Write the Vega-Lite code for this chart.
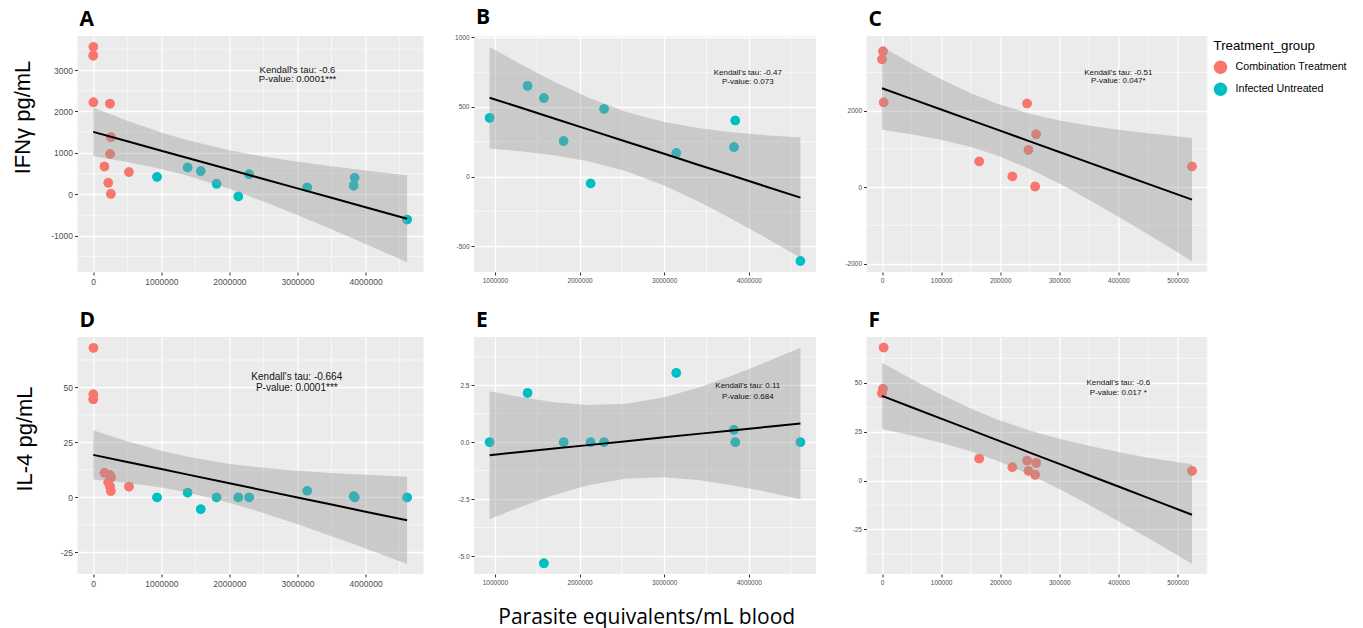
{
  "$schema": "https://vega.github.io/schema/vega-lite/v6.json",
  "background": "white",
  "padding": {"left": 10.5, "top": 7, "right": 5, "bottom": 2},
  "config": {
    "font": "Liberation Sans",
    "view": {"fill": "#EBEBEB", "stroke": null},
    "axis": {
      "domain": false,
      "labelFont": "Liberation Sans",
      "labelColor": "#4D4D4D",
      "tickColor": "#333333",
      "tickSize": 3,
      "tickWidth": 1,
      "gridColor": "#FFFFFF",
      "gridWidth": 1.3,
      "labelPadding": 2,
      "labelOverlap": false,
      "labelFlush": false,
      "titleFontWeight": "normal",
      "titleColor": "#000000"
    },
    "title": {"anchor": "start", "frame": "group", "fontSize": 21, "font": "Open Sans", "fontWeight": "bold", "color": "#000000", "baseline": "alphabetic", "offset": 6, "dx": 2}
  },
  "datasets": {
    "pts": [
      {"id": "c1", "group": "Combination Treatment", "parasites": 1700, "ifng": 3557, "il4": 46.9},
      {"id": "c2", "group": "Combination Treatment", "parasites": 0, "ifng": 3345, "il4": 44.6},
      {"id": "c3", "group": "Combination Treatment", "parasites": 2800, "ifng": 2221, "il4": 68.0},
      {"id": "c4", "group": "Combination Treatment", "parasites": 245500, "ifng": 2188, "il4": 10.2},
      {"id": "c5", "group": "Combination Treatment", "parasites": 260800, "ifng": 1383, "il4": 9.0},
      {"id": "c6", "group": "Combination Treatment", "parasites": 247700, "ifng": 975, "il4": 4.9},
      {"id": "c7", "group": "Combination Treatment", "parasites": 164400, "ifng": 672, "il4": 11.2},
      {"id": "c8", "group": "Combination Treatment", "parasites": 220500, "ifng": 280, "il4": 6.8},
      {"id": "c9", "group": "Combination Treatment", "parasites": 259000, "ifng": 16, "il4": 2.9},
      {"id": "c10", "group": "Combination Treatment", "parasites": 524400, "ifng": 540, "il4": 4.9},
      {"id": "b1", "group": "Infected Untreated", "parasites": 937000, "ifng": 421, "il4": 0},
      {"id": "b2", "group": "Infected Untreated", "parasites": 1386000, "ifng": 652, "il4": 2.16},
      {"id": "b3", "group": "Infected Untreated", "parasites": 1579000, "ifng": 564, "il4": -5.32},
      {"id": "b4", "group": "Infected Untreated", "parasites": 1812000, "ifng": 255, "il4": 0},
      {"id": "b5", "group": "Infected Untreated", "parasites": 2131000, "ifng": -50, "il4": 0},
      {"id": "b6", "group": "Infected Untreated", "parasites": 2290000, "ifng": 486, "il4": 0},
      {"id": "b7", "group": "Infected Untreated", "parasites": 3143000, "ifng": 169, "il4": 3.04},
      {"id": "b8", "group": "Infected Untreated", "parasites": 3840000, "ifng": 402, "il4": 0},
      {"id": "b9", "group": "Infected Untreated", "parasites": 3825000, "ifng": 212, "il4": 0.54},
      {"id": "b10", "group": "Infected Untreated", "parasites": 4610000, "ifng": -607, "il4": 0}
    ],
    "minor": [
      {"panel": "A", "dir": "x", "value": 500000}, {"panel": "A", "dir": "x", "value": 1500000}, {"panel": "A", "dir": "x", "value": 2500000}, {"panel": "A", "dir": "x", "value": 3500000}, {"panel": "A", "dir": "x", "value": 4500000},
      {"panel": "A", "dir": "y", "value": -1500}, {"panel": "A", "dir": "y", "value": -500}, {"panel": "A", "dir": "y", "value": 500}, {"panel": "A", "dir": "y", "value": 1500}, {"panel": "A", "dir": "y", "value": 2500}, {"panel": "A", "dir": "y", "value": 3500},
      {"panel": "B", "dir": "x", "value": 1500000}, {"panel": "B", "dir": "x", "value": 2500000}, {"panel": "B", "dir": "x", "value": 3500000}, {"panel": "B", "dir": "x", "value": 4500000},
      {"panel": "B", "dir": "y", "value": -250}, {"panel": "B", "dir": "y", "value": 250}, {"panel": "B", "dir": "y", "value": 750},
      {"panel": "C", "dir": "x", "value": 50000}, {"panel": "C", "dir": "x", "value": 150000}, {"panel": "C", "dir": "x", "value": 250000}, {"panel": "C", "dir": "x", "value": 350000}, {"panel": "C", "dir": "x", "value": 450000}, {"panel": "C", "dir": "x", "value": 550000},
      {"panel": "C", "dir": "y", "value": -1000}, {"panel": "C", "dir": "y", "value": 1000}, {"panel": "C", "dir": "y", "value": 3000},
      {"panel": "D", "dir": "x", "value": 500000}, {"panel": "D", "dir": "x", "value": 1500000}, {"panel": "D", "dir": "x", "value": 2500000}, {"panel": "D", "dir": "x", "value": 3500000}, {"panel": "D", "dir": "x", "value": 4500000},
      {"panel": "D", "dir": "y", "value": -12.5}, {"panel": "D", "dir": "y", "value": 12.5}, {"panel": "D", "dir": "y", "value": 37.5}, {"panel": "D", "dir": "y", "value": 62.5},
      {"panel": "E", "dir": "x", "value": 1500000}, {"panel": "E", "dir": "x", "value": 2500000}, {"panel": "E", "dir": "x", "value": 3500000}, {"panel": "E", "dir": "x", "value": 4500000},
      {"panel": "E", "dir": "y", "value": -3.75}, {"panel": "E", "dir": "y", "value": -1.25}, {"panel": "E", "dir": "y", "value": 1.25}, {"panel": "E", "dir": "y", "value": 3.75},
      {"panel": "F", "dir": "x", "value": 50000}, {"panel": "F", "dir": "x", "value": 150000}, {"panel": "F", "dir": "x", "value": 250000}, {"panel": "F", "dir": "x", "value": 350000}, {"panel": "F", "dir": "x", "value": 450000}, {"panel": "F", "dir": "x", "value": 550000},
      {"panel": "F", "dir": "y", "value": -37.5}, {"panel": "F", "dir": "y", "value": -12.5}, {"panel": "F", "dir": "y", "value": 12.5}, {"panel": "F", "dir": "y", "value": 37.5}, {"panel": "F", "dir": "y", "value": 62.5}
    ],
    "fits": [
      {"panel": "A", "parasites": 0, "lower": 918.9, "fit": 1507.8, "upper": 2096.7},
      {"panel": "A", "parasites": 500000, "lower": 782.1, "fit": 1280.8, "upper": 1779.5},
      {"panel": "A", "parasites": 1000000, "lower": 613.0, "fit": 1053.7, "upper": 1494.4},
      {"panel": "A", "parasites": 1373700, "lower": 457.4, "fit": 884.0, "upper": 1310.6},
      {"panel": "A", "parasites": 2000000, "lower": 134.5, "fit": 599.6, "upper": 1064.7},
      {"panel": "A", "parasites": 2500000, "lower": -168.5, "fit": 372.6, "upper": 913.7},
      {"panel": "A", "parasites": 3000000, "lower": -497.2, "fit": 145.5, "upper": 788.2},
      {"panel": "A", "parasites": 3500000, "lower": -841.0, "fit": -81.5, "upper": 678.0},
      {"panel": "A", "parasites": 4000000, "lower": -1194.3, "fit": -308.6, "upper": 577.1},
      {"panel": "A", "parasites": 4610000, "lower": -1634, "fit": -585.6, "upper": 462},
      {"panel": "B", "parasites": 937000, "lower": 201.9, "fit": 566.7, "upper": 931.5},
      {"panel": "B", "parasites": 1300000, "lower": 182.5, "fit": 495.7, "upper": 808.9},
      {"panel": "B", "parasites": 1700000, "lower": 153.2, "fit": 417.5, "upper": 681.8},
      {"panel": "B", "parasites": 2100000, "lower": 110.6, "fit": 339.3, "upper": 568.0},
      {"panel": "B", "parasites": 2554800, "lower": 37.4, "fit": 250.4, "upper": 463.4},
      {"panel": "B", "parasites": 3000000, "lower": -64.7, "fit": 163.4, "upper": 391.5},
      {"panel": "B", "parasites": 3400000, "lower": -178.1, "fit": 85.2, "upper": 348.5},
      {"panel": "B", "parasites": 3800000, "lower": -305.0, "fit": 7.0, "upper": 319.0},
      {"panel": "B", "parasites": 4200000, "lower": -440.0, "fit": -71.2, "upper": 297.6},
      {"panel": "B", "parasites": 4610000, "lower": -583.5, "fit": -151.4, "upper": 280.8},
      {"panel": "C", "parasites": 0, "lower": 1502.3, "fit": 2589.3, "upper": 3676.3},
      {"panel": "C", "parasites": 50000, "lower": 1386.4, "fit": 2311.2, "upper": 3236.0},
      {"panel": "C", "parasites": 100000, "lower": 1241.7, "fit": 2033.2, "upper": 2824.7},
      {"panel": "C", "parasites": 150000, "lower": 1051.7, "fit": 1755.1, "upper": 2458.5},
      {"panel": "C", "parasites": 192680, "lower": 840.0, "fit": 1517.7, "upper": 2195.4},
      {"panel": "C", "parasites": 250000, "lower": 475.6, "fit": 1199.0, "upper": 1922.4},
      {"panel": "C", "parasites": 300000, "lower": 94.2, "fit": 920.9, "upper": 1747.6},
      {"panel": "C", "parasites": 350000, "lower": -327.2, "fit": 642.8, "upper": 1612.8},
      {"panel": "C", "parasites": 400000, "lower": -773.5, "fit": 364.7, "upper": 1502.9},
      {"panel": "C", "parasites": 450000, "lower": -1235.2, "fit": 86.7, "upper": 1408.6},
      {"panel": "C", "parasites": 524400, "lower": -1939.6, "fit": -327.1, "upper": 1285.4},
      {"panel": "D", "parasites": 0, "lower": 8.20, "fit": 19.356, "upper": 30.52},
      {"panel": "D", "parasites": 500000, "lower": 6.68, "fit": 16.129, "upper": 25.58},
      {"panel": "D", "parasites": 1000000, "lower": 4.55, "fit": 12.903, "upper": 21.26},
      {"panel": "D", "parasites": 1373700, "lower": 2.41, "fit": 10.491, "upper": 18.58},
      {"panel": "D", "parasites": 2000000, "lower": -2.37, "fit": 6.449, "upper": 15.26},
      {"panel": "D", "parasites": 2500000, "lower": -7.03, "fit": 3.222, "upper": 13.48},
      {"panel": "D", "parasites": 3000000, "lower": -12.19, "fit": -0.005, "upper": 12.18},
      {"panel": "D", "parasites": 3500000, "lower": -17.63, "fit": -3.231, "upper": 11.16},
      {"panel": "D", "parasites": 4000000, "lower": -23.24, "fit": -6.458, "upper": 10.33},
      {"panel": "D", "parasites": 4610000, "lower": -30.25, "fit": -10.39, "upper": 9.47},
      {"panel": "E", "parasites": 937000, "lower": -3.382, "fit": -0.572, "upper": 2.239},
      {"panel": "E", "parasites": 1300000, "lower": -2.847, "fit": -0.434, "upper": 1.979},
      {"panel": "E", "parasites": 1700000, "lower": -2.319, "fit": -0.282, "upper": 1.754},
      {"panel": "E", "parasites": 2100000, "lower": -1.893, "fit": -0.131, "upper": 1.632},
      {"panel": "E", "parasites": 2554800, "lower": -1.599, "fit": 0.042, "upper": 1.683},
      {"panel": "E", "parasites": 3000000, "lower": -1.546, "fit": 0.211, "upper": 1.968},
      {"panel": "E", "parasites": 3400000, "lower": -1.666, "fit": 0.363, "upper": 2.391},
      {"panel": "E", "parasites": 3800000, "lower": -1.889, "fit": 0.514, "upper": 2.918},
      {"panel": "E", "parasites": 4200000, "lower": -2.176, "fit": 0.666, "upper": 3.508},
      {"panel": "E", "parasites": 4610000, "lower": -2.51, "fit": 0.822, "upper": 4.15},
      {"panel": "F", "parasites": 0, "lower": 26.35, "fit": 43.259, "upper": 60.17},
      {"panel": "F", "parasites": 50000, "lower": 23.08, "fit": 37.467, "upper": 51.86},
      {"panel": "F", "parasites": 100000, "lower": 19.36, "fit": 31.675, "upper": 43.99},
      {"panel": "F", "parasites": 150000, "lower": 14.94, "fit": 25.884, "upper": 36.83},
      {"panel": "F", "parasites": 192680, "lower": 10.40, "fit": 20.94, "upper": 31.49},
      {"panel": "F", "parasites": 250000, "lower": 3.05, "fit": 14.300, "upper": 25.56},
      {"panel": "F", "parasites": 300000, "lower": -4.35, "fit": 8.508, "upper": 21.37},
      {"panel": "F", "parasites": 350000, "lower": -12.38, "fit": 2.716, "upper": 17.81},
      {"panel": "F", "parasites": 400000, "lower": -20.79, "fit": -3.075, "upper": 14.63},
      {"panel": "F", "parasites": 450000, "lower": -29.44, "fit": -8.867, "upper": 11.70},
      {"panel": "F", "parasites": 524400, "lower": -42.57, "fit": -17.485, "upper": 8.3}
    ],
    "notes": [
      {"panel": "A", "parasites": 3000000, "value": 2993, "label": "Kendall's tau: -0.6"},
      {"panel": "A", "parasites": 3000000, "value": 2782, "label": "P-value: 0.0001***"},
      {"panel": "B", "parasites": 3988000, "value": 743, "label": "Kendall's tau: -0.47"},
      {"panel": "B", "parasites": 3988000, "value": 681, "label": "P-value: 0.073"},
      {"panel": "C", "parasites": 399700, "value": 2985, "label": "Kendall's tau: -0.51"},
      {"panel": "C", "parasites": 399700, "value": 2768, "label": "P-value: 0.047*"},
      {"panel": "D", "parasites": 2990000, "value": 54.7, "label": "Kendall's tau: -0.664"},
      {"panel": "D", "parasites": 2990000, "value": 49.8, "label": "P-value: 0.0001***"},
      {"panel": "E", "parasites": 3988000, "value": 2.47, "label": "Kendall's tau: 0.11"},
      {"panel": "E", "parasites": 3988000, "value": 1.97, "label": "P-value: 0.684"},
      {"panel": "F", "parasites": 399800, "value": 49.8, "label": "Kendall's tau: -0.6"},
      {"panel": "F", "parasites": 399800, "value": 44.7, "label": "P-value: 0.017 *"}
    ]
  },
  "columns": 3,
  "spacing": {"row": 65, "column": 50.5},
  "bounds": "flush",
  "align": "each",
  "resolve": {"scale": {"x": "independent", "y": "independent", "color": "shared"}},
  "concat": [
    {
      "width": 346, "height": 236,
      "title": {"text": "A"},
      "layer": [
        {
          "data": {"name": "pts"},
          "mark": {"type": "point", "filled": true, "size": 90, "opacity": 1, "strokeWidth": 0},
          "encoding": {
            "x": {"field": "parasites", "type": "quantitative",
              "scale": {"domain": [-231000, 4851000], "nice": false, "zero": false},
              "axis": {"title": null, "values": [0, 1000000, 2000000, 3000000, 4000000], "labelExpr": "'' + datum.value", "labelFontSize": 8.5}},
            "y": {"field": "ifng", "type": "quantitative",
              "scale": {"domain": [-1870, 3820], "nice": false, "zero": false},
              "axis": {"title": "IFNγ pg/mL", "titleFont": "Liberation Sans", "titleFontSize": 22, "titleX": -48.5, "titleY": 81, "titleBaseline": "alphabetic",
                "values": [-1000, 0, 1000, 2000, 3000], "labelExpr": "'' + datum.value", "labelFontSize": 8.5}},
            "color": {"field": "group", "type": "nominal",
              "scale": {"domain": ["Combination Treatment", "Infected Untreated"], "range": ["#F8766D", "#00BFC4"]},
              "legend": {"title": "Treatment_group", "orient": "none", "legendX": 1136, "legendY": 3, "titleFont": "Liberation Sans", "titleFontSize": 13.3, "titleFontWeight": "normal", "titleColor": "#000000", "titlePadding": 8, "labelFont": "Liberation Sans", "labelFontSize": 10.7, "labelColor": "#000000", "labelOffset": 8, "symbolType": "circle", "symbolSize": 180, "symbolStrokeWidth": 0, "symbolOpacity": 1, "rowPadding": 8, "padding": 0}}
          }
        },
        {
          "data": {"name": "minor"}, "transform": [{"filter": "datum.panel === 'A' && datum.dir === 'x'"}],
          "mark": {"type": "rule", "color": "#FFFFFF", "strokeWidth": 0.6},
          "encoding": {"x": {"field": "value", "type": "quantitative"}}
        },
        {
          "data": {"name": "minor"}, "transform": [{"filter": "datum.panel === 'A' && datum.dir === 'y'"}],
          "mark": {"type": "rule", "color": "#FFFFFF", "strokeWidth": 0.6},
          "encoding": {"y": {"field": "value", "type": "quantitative"}}
        },
        {
          "data": {"name": "pts"},
          "mark": {"type": "point", "filled": true, "size": 90, "opacity": 1, "strokeWidth": 0},
          "encoding": {"x": {"field": "parasites", "type": "quantitative"}, "y": {"field": "ifng", "type": "quantitative"}, "color": {"field": "group", "type": "nominal"}}
        },
        {
          "data": {"name": "fits"}, "transform": [{"filter": "datum.panel === 'A'"}],
          "mark": {"type": "area", "color": "#999999", "opacity": 0.4},
          "encoding": {"x": {"field": "parasites", "type": "quantitative"}, "y": {"field": "lower", "type": "quantitative"}, "y2": {"field": "upper"}}
        },
        {
          "data": {"name": "fits"}, "transform": [{"filter": "datum.panel === 'A'"}],
          "mark": {"type": "line", "color": "#000000", "strokeWidth": 2},
          "encoding": {"x": {"field": "parasites", "type": "quantitative"}, "y": {"field": "fit", "type": "quantitative"}}
        },
        {
          "data": {"name": "notes"}, "transform": [{"filter": "datum.panel === 'A'"}],
          "mark": {"type": "text", "fontSize": 9.5, "font": "Liberation Sans", "color": "#111111", "align": "center", "baseline": "middle"},
          "encoding": {"x": {"field": "parasites", "type": "quantitative"}, "y": {"field": "value", "type": "quantitative"}, "text": {"field": "label"}}
        }
      ]
    },
    {
      "width": 342, "height": 236,
      "title": {"text": "B"},
      "layer": [
        {
          "data": {"name": "pts"}, "transform": [{"filter": "datum.group === 'Infected Untreated'"}],
          "mark": {"type": "point", "filled": true, "size": 90, "opacity": 1, "strokeWidth": 0},
          "encoding": {
            "x": {"field": "parasites", "type": "quantitative",
              "scale": {"domain": [753000, 4794000], "nice": false, "zero": false},
              "axis": {"title": null, "values": [1000000, 2000000, 3000000, 4000000], "labelExpr": "'' + datum.value", "labelFontSize": 6.5}},
            "y": {"field": "ifng", "type": "quantitative",
              "scale": {"domain": [-686, 1010], "nice": false, "zero": false},
              "axis": {"title": null, "values": [-500, 0, 500, 1000], "labelExpr": "'' + datum.value", "labelFontSize": 6.5}},
            "color": {"field": "group", "type": "nominal",
              "scale": {"domain": ["Combination Treatment", "Infected Untreated"], "range": ["#F8766D", "#00BFC4"]},
              "legend": {"title": "Treatment_group", "orient": "none", "legendX": 1136, "legendY": 3, "titleFont": "Liberation Sans", "titleFontSize": 13.3, "titleFontWeight": "normal", "titleColor": "#000000", "titlePadding": 8, "labelFont": "Liberation Sans", "labelFontSize": 10.7, "labelColor": "#000000", "labelOffset": 8, "symbolType": "circle", "symbolSize": 180, "symbolStrokeWidth": 0, "symbolOpacity": 1, "rowPadding": 8, "padding": 0}}
          }
        },
        {
          "data": {"name": "minor"}, "transform": [{"filter": "datum.panel === 'B' && datum.dir === 'x'"}],
          "mark": {"type": "rule", "color": "#FFFFFF", "strokeWidth": 0.6},
          "encoding": {"x": {"field": "value", "type": "quantitative"}}
        },
        {
          "data": {"name": "minor"}, "transform": [{"filter": "datum.panel === 'B' && datum.dir === 'y'"}],
          "mark": {"type": "rule", "color": "#FFFFFF", "strokeWidth": 0.6},
          "encoding": {"y": {"field": "value", "type": "quantitative"}}
        },
        {
          "data": {"name": "pts"}, "transform": [{"filter": "datum.group === 'Infected Untreated'"}],
          "mark": {"type": "point", "filled": true, "size": 90, "opacity": 1, "strokeWidth": 0},
          "encoding": {"x": {"field": "parasites", "type": "quantitative"}, "y": {"field": "ifng", "type": "quantitative"}, "color": {"field": "group", "type": "nominal"}}
        },
        {
          "data": {"name": "fits"}, "transform": [{"filter": "datum.panel === 'B'"}],
          "mark": {"type": "area", "color": "#999999", "opacity": 0.4},
          "encoding": {"x": {"field": "parasites", "type": "quantitative"}, "y": {"field": "lower", "type": "quantitative"}, "y2": {"field": "upper"}}
        },
        {
          "data": {"name": "fits"}, "transform": [{"filter": "datum.panel === 'B'"}],
          "mark": {"type": "line", "color": "#000000", "strokeWidth": 2},
          "encoding": {"x": {"field": "parasites", "type": "quantitative"}, "y": {"field": "fit", "type": "quantitative"}}
        },
        {
          "data": {"name": "notes"}, "transform": [{"filter": "datum.panel === 'B'"}],
          "mark": {"type": "text", "fontSize": 8, "font": "Liberation Sans", "color": "#111111", "align": "center", "baseline": "middle"},
          "encoding": {"x": {"field": "parasites", "type": "quantitative"}, "y": {"field": "value", "type": "quantitative"}, "text": {"field": "label"}}
        }
      ]
    },
    {
      "width": 341, "height": 236,
      "title": {"text": "C"},
      "layer": [
        {
          "data": {"name": "pts"}, "transform": [{"filter": "datum.group === 'Combination Treatment'"}],
          "mark": {"type": "point", "filled": true, "size": 90, "opacity": 1, "strokeWidth": 0},
          "encoding": {
            "x": {"field": "parasites", "type": "quantitative",
              "scale": {"domain": [-26220, 550620], "nice": false, "zero": false},
              "axis": {"title": null, "values": [0, 100000, 200000, 300000, 400000, 500000], "labelExpr": "'' + datum.value", "labelFontSize": 6.5}},
            "y": {"field": "ifng", "type": "quantitative",
              "scale": {"domain": [-2222, 3957], "nice": false, "zero": false},
              "axis": {"title": null, "values": [-2000, 0, 2000], "labelExpr": "'' + datum.value", "labelFontSize": 6.5}},
            "color": {"field": "group", "type": "nominal",
              "scale": {"domain": ["Combination Treatment", "Infected Untreated"], "range": ["#F8766D", "#00BFC4"]},
              "legend": {"title": "Treatment_group", "orient": "none", "legendX": 1136, "legendY": 3, "titleFont": "Liberation Sans", "titleFontSize": 13.3, "titleFontWeight": "normal", "titleColor": "#000000", "titlePadding": 8, "labelFont": "Liberation Sans", "labelFontSize": 10.7, "labelColor": "#000000", "labelOffset": 8, "symbolType": "circle", "symbolSize": 180, "symbolStrokeWidth": 0, "symbolOpacity": 1, "rowPadding": 8, "padding": 0}}
          }
        },
        {
          "data": {"name": "minor"}, "transform": [{"filter": "datum.panel === 'C' && datum.dir === 'x'"}],
          "mark": {"type": "rule", "color": "#FFFFFF", "strokeWidth": 0.6},
          "encoding": {"x": {"field": "value", "type": "quantitative"}}
        },
        {
          "data": {"name": "minor"}, "transform": [{"filter": "datum.panel === 'C' && datum.dir === 'y'"}],
          "mark": {"type": "rule", "color": "#FFFFFF", "strokeWidth": 0.6},
          "encoding": {"y": {"field": "value", "type": "quantitative"}}
        },
        {
          "data": {"name": "pts"}, "transform": [{"filter": "datum.group === 'Combination Treatment'"}],
          "mark": {"type": "point", "filled": true, "size": 90, "opacity": 1, "strokeWidth": 0},
          "encoding": {"x": {"field": "parasites", "type": "quantitative"}, "y": {"field": "ifng", "type": "quantitative"}, "color": {"field": "group", "type": "nominal"}}
        },
        {
          "data": {"name": "fits"}, "transform": [{"filter": "datum.panel === 'C'"}],
          "mark": {"type": "area", "color": "#999999", "opacity": 0.4},
          "encoding": {"x": {"field": "parasites", "type": "quantitative"}, "y": {"field": "lower", "type": "quantitative"}, "y2": {"field": "upper"}}
        },
        {
          "data": {"name": "fits"}, "transform": [{"filter": "datum.panel === 'C'"}],
          "mark": {"type": "line", "color": "#000000", "strokeWidth": 2},
          "encoding": {"x": {"field": "parasites", "type": "quantitative"}, "y": {"field": "fit", "type": "quantitative"}}
        },
        {
          "data": {"name": "notes"}, "transform": [{"filter": "datum.panel === 'C'"}],
          "mark": {"type": "text", "fontSize": 8, "font": "Liberation Sans", "color": "#111111", "align": "center", "baseline": "middle"},
          "encoding": {"x": {"field": "parasites", "type": "quantitative"}, "y": {"field": "value", "type": "quantitative"}, "text": {"field": "label"}}
        }
      ]
    },
    {
      "width": 346, "height": 237,
      "title": {"text": "D"},
      "layer": [
        {
          "data": {"name": "pts"},
          "mark": {"type": "point", "filled": true, "size": 90, "opacity": 1, "strokeWidth": 0},
          "encoding": {
            "x": {"field": "parasites", "type": "quantitative",
              "scale": {"domain": [-231000, 4851000], "nice": false, "zero": false},
              "axis": {"title": null, "values": [0, 1000000, 2000000, 3000000, 4000000], "labelExpr": "'' + datum.value", "labelFontSize": 8.5}},
            "y": {"field": "il4", "type": "quantitative",
              "scale": {"domain": [-34.8, 72.95], "nice": false, "zero": false},
              "axis": {"title": "IL-4 pg/mL", "titleFont": "Liberation Sans", "titleFontSize": 22, "titleX": -46, "titleY": 101.5, "titleBaseline": "alphabetic",
                "values": [-25, 0, 25, 50], "labelExpr": "'' + datum.value", "labelFontSize": 8.5}},
            "color": {"field": "group", "type": "nominal",
              "scale": {"domain": ["Combination Treatment", "Infected Untreated"], "range": ["#F8766D", "#00BFC4"]},
              "legend": {"title": "Treatment_group", "orient": "none", "legendX": 1136, "legendY": 3, "titleFont": "Liberation Sans", "titleFontSize": 13.3, "titleFontWeight": "normal", "titleColor": "#000000", "titlePadding": 8, "labelFont": "Liberation Sans", "labelFontSize": 10.7, "labelColor": "#000000", "labelOffset": 8, "symbolType": "circle", "symbolSize": 180, "symbolStrokeWidth": 0, "symbolOpacity": 1, "rowPadding": 8, "padding": 0}}
          }
        },
        {
          "data": {"name": "minor"}, "transform": [{"filter": "datum.panel === 'D' && datum.dir === 'x'"}],
          "mark": {"type": "rule", "color": "#FFFFFF", "strokeWidth": 0.6},
          "encoding": {"x": {"field": "value", "type": "quantitative"}}
        },
        {
          "data": {"name": "minor"}, "transform": [{"filter": "datum.panel === 'D' && datum.dir === 'y'"}],
          "mark": {"type": "rule", "color": "#FFFFFF", "strokeWidth": 0.6},
          "encoding": {"y": {"field": "value", "type": "quantitative"}}
        },
        {
          "data": {"name": "pts"},
          "mark": {"type": "point", "filled": true, "size": 90, "opacity": 1, "strokeWidth": 0},
          "encoding": {"x": {"field": "parasites", "type": "quantitative"}, "y": {"field": "il4", "type": "quantitative"}, "color": {"field": "group", "type": "nominal"}}
        },
        {
          "data": {"name": "fits"}, "transform": [{"filter": "datum.panel === 'D'"}],
          "mark": {"type": "area", "color": "#999999", "opacity": 0.4},
          "encoding": {"x": {"field": "parasites", "type": "quantitative"}, "y": {"field": "lower", "type": "quantitative"}, "y2": {"field": "upper"}}
        },
        {
          "data": {"name": "fits"}, "transform": [{"filter": "datum.panel === 'D'"}],
          "mark": {"type": "line", "color": "#000000", "strokeWidth": 2},
          "encoding": {"x": {"field": "parasites", "type": "quantitative"}, "y": {"field": "fit", "type": "quantitative"}}
        },
        {
          "data": {"name": "notes"}, "transform": [{"filter": "datum.panel === 'D'"}],
          "mark": {"type": "text", "fontSize": 10, "font": "Liberation Sans", "color": "#111111", "align": "center", "baseline": "middle"},
          "encoding": {"x": {"field": "parasites", "type": "quantitative"}, "y": {"field": "value", "type": "quantitative"}, "text": {"field": "label"}}
        }
      ]
    },
    {
      "width": 342, "height": 237,
      "title": {"text": "E"},
      "layer": [
        {
          "data": {"name": "pts"}, "transform": [{"filter": "datum.group === 'Infected Untreated'"}],
          "mark": {"type": "point", "filled": true, "size": 90, "opacity": 1, "strokeWidth": 0},
          "encoding": {
            "x": {"field": "parasites", "type": "quantitative",
              "scale": {"domain": [753000, 4794000], "nice": false, "zero": false},
              "axis": {"title": "Parasite equivalents/mL blood", "titleFont": "Open Sans", "titleFontSize": 21, "titleX": 172.2, "titleY": 49.7, "titleBaseline": "alphabetic",
                "values": [1000000, 2000000, 3000000, 4000000], "labelExpr": "'' + datum.value", "labelFontSize": 6.5}},
            "y": {"field": "il4", "type": "quantitative",
              "scale": {"domain": [-5.79, 4.617], "nice": false, "zero": false},
              "axis": {"title": null, "values": [-5, -2.5, 0, 2.5],
                "labelExpr": "(datum.value < 0 ? '-' : '') + format(abs(datum.value), '.1f')", "labelFontSize": 6.5}},
            "color": {"field": "group", "type": "nominal",
              "scale": {"domain": ["Combination Treatment", "Infected Untreated"], "range": ["#F8766D", "#00BFC4"]},
              "legend": {"title": "Treatment_group", "orient": "none", "legendX": 1136, "legendY": 3, "titleFont": "Liberation Sans", "titleFontSize": 13.3, "titleFontWeight": "normal", "titleColor": "#000000", "titlePadding": 8, "labelFont": "Liberation Sans", "labelFontSize": 10.7, "labelColor": "#000000", "labelOffset": 8, "symbolType": "circle", "symbolSize": 180, "symbolStrokeWidth": 0, "symbolOpacity": 1, "rowPadding": 8, "padding": 0}}
          }
        },
        {
          "data": {"name": "minor"}, "transform": [{"filter": "datum.panel === 'E' && datum.dir === 'x'"}],
          "mark": {"type": "rule", "color": "#FFFFFF", "strokeWidth": 0.6},
          "encoding": {"x": {"field": "value", "type": "quantitative"}}
        },
        {
          "data": {"name": "minor"}, "transform": [{"filter": "datum.panel === 'E' && datum.dir === 'y'"}],
          "mark": {"type": "rule", "color": "#FFFFFF", "strokeWidth": 0.6},
          "encoding": {"y": {"field": "value", "type": "quantitative"}}
        },
        {
          "data": {"name": "pts"}, "transform": [{"filter": "datum.group === 'Infected Untreated'"}],
          "mark": {"type": "point", "filled": true, "size": 90, "opacity": 1, "strokeWidth": 0},
          "encoding": {"x": {"field": "parasites", "type": "quantitative"}, "y": {"field": "il4", "type": "quantitative"}, "color": {"field": "group", "type": "nominal"}}
        },
        {
          "data": {"name": "fits"}, "transform": [{"filter": "datum.panel === 'E'"}],
          "mark": {"type": "area", "color": "#999999", "opacity": 0.4},
          "encoding": {"x": {"field": "parasites", "type": "quantitative"}, "y": {"field": "lower", "type": "quantitative"}, "y2": {"field": "upper"}}
        },
        {
          "data": {"name": "fits"}, "transform": [{"filter": "datum.panel === 'E'"}],
          "mark": {"type": "line", "color": "#000000", "strokeWidth": 2},
          "encoding": {"x": {"field": "parasites", "type": "quantitative"}, "y": {"field": "fit", "type": "quantitative"}}
        },
        {
          "data": {"name": "notes"}, "transform": [{"filter": "datum.panel === 'E'"}],
          "mark": {"type": "text", "fontSize": 8, "font": "Liberation Sans", "color": "#111111", "align": "center", "baseline": "middle"},
          "encoding": {"x": {"field": "parasites", "type": "quantitative"}, "y": {"field": "value", "type": "quantitative"}, "text": {"field": "label"}}
        }
      ]
    },
    {
      "width": 341, "height": 237,
      "title": {"text": "F"},
      "layer": [
        {
          "data": {"name": "pts"}, "transform": [{"filter": "datum.group === 'Combination Treatment'"}],
          "mark": {"type": "point", "filled": true, "size": 90, "opacity": 1, "strokeWidth": 0},
          "encoding": {
            "x": {"field": "parasites", "type": "quantitative",
              "scale": {"domain": [-26220, 550620], "nice": false, "zero": false},
              "axis": {"title": null, "values": [0, 100000, 200000, 300000, 400000, 500000], "labelExpr": "'' + datum.value", "labelFontSize": 6.5}},
            "y": {"field": "il4", "type": "quantitative",
              "scale": {"domain": [-47.8, 73.4], "nice": false, "zero": false},
              "axis": {"title": null, "values": [-25, 0, 25, 50], "labelExpr": "'' + datum.value", "labelFontSize": 6.5}},
            "color": {"field": "group", "type": "nominal",
              "scale": {"domain": ["Combination Treatment", "Infected Untreated"], "range": ["#F8766D", "#00BFC4"]},
              "legend": {"title": "Treatment_group", "orient": "none", "legendX": 1136, "legendY": 3, "titleFont": "Liberation Sans", "titleFontSize": 13.3, "titleFontWeight": "normal", "titleColor": "#000000", "titlePadding": 8, "labelFont": "Liberation Sans", "labelFontSize": 10.7, "labelColor": "#000000", "labelOffset": 8, "symbolType": "circle", "symbolSize": 180, "symbolStrokeWidth": 0, "symbolOpacity": 1, "rowPadding": 8, "padding": 0}}
          }
        },
        {
          "data": {"name": "minor"}, "transform": [{"filter": "datum.panel === 'F' && datum.dir === 'x'"}],
          "mark": {"type": "rule", "color": "#FFFFFF", "strokeWidth": 0.6},
          "encoding": {"x": {"field": "value", "type": "quantitative"}}
        },
        {
          "data": {"name": "minor"}, "transform": [{"filter": "datum.panel === 'F' && datum.dir === 'y'"}],
          "mark": {"type": "rule", "color": "#FFFFFF", "strokeWidth": 0.6},
          "encoding": {"y": {"field": "value", "type": "quantitative"}}
        },
        {
          "data": {"name": "pts"}, "transform": [{"filter": "datum.group === 'Combination Treatment'"}],
          "mark": {"type": "point", "filled": true, "size": 90, "opacity": 1, "strokeWidth": 0},
          "encoding": {"x": {"field": "parasites", "type": "quantitative"}, "y": {"field": "il4", "type": "quantitative"}, "color": {"field": "group", "type": "nominal"}}
        },
        {
          "data": {"name": "fits"}, "transform": [{"filter": "datum.panel === 'F'"}],
          "mark": {"type": "area", "color": "#999999", "opacity": 0.4},
          "encoding": {"x": {"field": "parasites", "type": "quantitative"}, "y": {"field": "lower", "type": "quantitative"}, "y2": {"field": "upper"}}
        },
        {
          "data": {"name": "fits"}, "transform": [{"filter": "datum.panel === 'F'"}],
          "mark": {"type": "line", "color": "#000000", "strokeWidth": 2},
          "encoding": {"x": {"field": "parasites", "type": "quantitative"}, "y": {"field": "fit", "type": "quantitative"}}
        },
        {
          "data": {"name": "notes"}, "transform": [{"filter": "datum.panel === 'F'"}],
          "mark": {"type": "text", "fontSize": 8, "font": "Liberation Sans", "color": "#111111", "align": "center", "baseline": "middle"},
          "encoding": {"x": {"field": "parasites", "type": "quantitative"}, "y": {"field": "value", "type": "quantitative"}, "text": {"field": "label"}}
        }
      ]
    }
  ]
}
